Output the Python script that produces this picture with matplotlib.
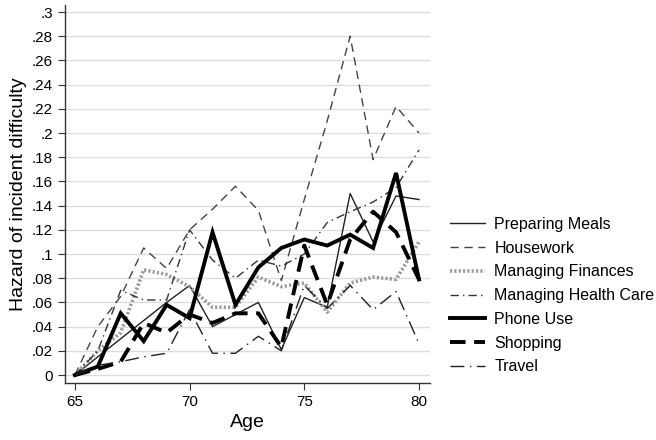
import matplotlib
matplotlib.use("Agg")
import matplotlib.pyplot as plt

plt.rcParams['font.family'] = ['Liberation Sans', 'DejaVu Sans']

ages = list(range(65, 81))
preparing_meals = [0, 0.015, 0.03, 0.045, 0.06, 0.074, 0.04, 0.05, 0.06, 0.021, 0.064, 0.056, 0.15, 0.11, 0.148, 0.145]
housework = [0, 0.04, 0.065, 0.105, 0.088, 0.12, 0.137, 0.156, 0.136, 0.078, 0.145, 0.21, 0.28, 0.178, 0.222, 0.2]
managing_finances = [0, 0.02, 0.035, 0.087, 0.083, 0.073, 0.056, 0.056, 0.081, 0.073, 0.076, 0.052, 0.076, 0.081, 0.079, 0.11]
managing_health_care = [0, 0.02, 0.07, 0.062, 0.062, 0.12, 0.095, 0.08, 0.095, 0.09, 0.1, 0.126, 0.135, 0.143, 0.155, 0.186]
phone_use = [0, 0.007, 0.051, 0.028, 0.058, 0.047, 0.118, 0.058, 0.089, 0.105, 0.112, 0.107, 0.116, 0.105, 0.167, 0.079]
shopping = [0, 0.005, 0.011, 0.043, 0.035, 0.05, 0.043, 0.051, 0.051, 0.023, 0.107, 0.058, 0.112, 0.135, 0.118, 0.079]
travel = [0, 0.008, 0.011, 0.015, 0.018, 0.054, 0.018, 0.018, 0.032, 0.02, 0.074, 0.055, 0.074, 0.054, 0.069, 0.026]

ytick_vals = [0, .02, .04, .06, .08, .1, .12, .14, .16, .18, .2, .22, .24, .26, .28, .3]
ytick_labels = ["0", ".02", ".04", ".06", ".08", ".1", ".12", ".14", ".16", ".18", ".2", ".22", ".24", ".26", ".28", ".3"]
xtick_vals = [65, 70, 75, 80]

fig = plt.figure(figsize=(6.56, 4.4), dpi=100)
ax = fig.add_axes([65/656, 57/440, (430-65)/656, (383-5)/440])

ax.plot(ages, preparing_meals, color='#222222', lw=1.0, label='Preparing Meals')
ax.plot(ages, housework, color='#444444', lw=1.0, dashes=(6, 4), label='Housework')
ax.plot(ages, managing_finances, color='#9a9a9a', lw=2.6, dashes=(0.6, 0.6), label='Managing Finances')
ax.plot(ages, managing_health_care, color='#333333', lw=1.0, dashes=(6, 3, 1, 3), label='Managing Health Care')
ax.plot(ages, phone_use, color='black', lw=2.8, label='Phone Use', solid_joinstyle='miter')
ax.plot(ages, shopping, color='black', lw=2.8, dashes=(4, 2.2), label='Shopping')
ax.plot(ages, travel, color='#222222', lw=1.0, dashes=(10, 4, 1, 4), label='Travel')

ax.set_xlim(64.57, 80.48)
ax.set_ylim(-0.0066, 0.3058)
ax.set_yticks(ytick_vals)
ax.set_yticklabels(ytick_labels)
ax.set_xticks(xtick_vals)
ax.grid(axis='y', color='#dcdcdc', lw=1.0)
ax.set_axisbelow(True)
for s in ['top', 'right']:
    ax.spines[s].set_visible(False)
for s in ['left', 'bottom']:
    ax.spines[s].set_color('#333333')
    ax.spines[s].set_linewidth(1.0)
ax.tick_params(axis='both', labelsize=11, length=5, color='#333333', direction='out')
ax.set_ylabel('Hazard of incident difficulty', fontsize=14, labelpad=4)
ax.set_xlabel('Age', fontsize=14, labelpad=4)

leg = fig.legend(loc='upper left', bbox_to_anchor=(437/656, 1 - 204/440), frameon=False,
                 fontsize=11.5, handlelength=2.2, labelspacing=0.55, handletextpad=0.6,
                 borderpad=0.3)

fig.savefig('out.png', dpi=100)
